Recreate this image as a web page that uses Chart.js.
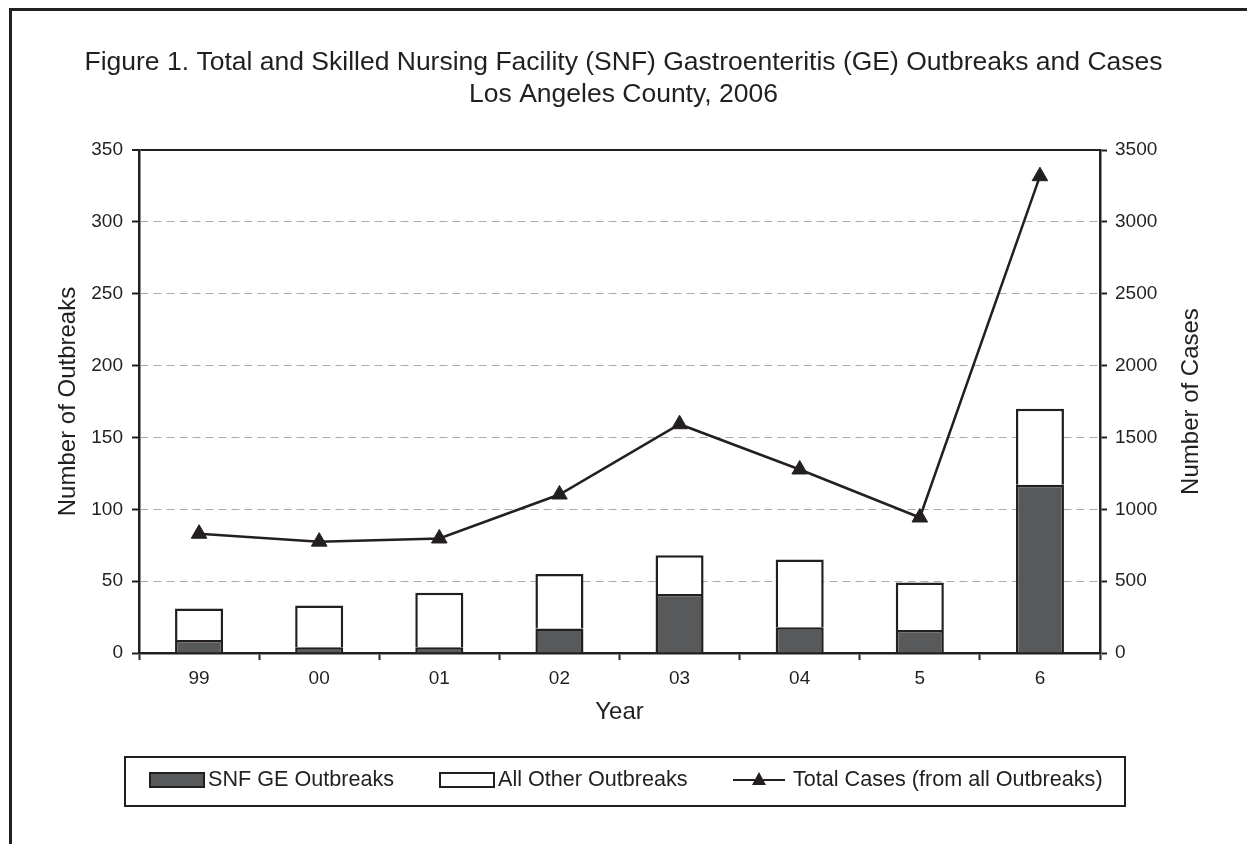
<!DOCTYPE html>
<html>
<head>
<meta charset="utf-8">
<title>SNF GE Outbreaks, Los Angeles County</title>
<script src="https://cdn.jsdelivr.net/npm/chart.js@4.4.1/dist/chart.umd.min.js"></script>
<style>
  html, body { margin: 0; padding: 0; background: #fff; }
  #chart { display: block; }
</style>
</head>
<body>
<canvas id="chart" width="1247" height="844"></canvas>
<script>
// values
var years = ['99', '00', '01', '02', '03', '04', '5', '6'];
var snfOutbreaks = [9, 4, 4, 17, 41, 18, 16, 117];
var otherOutbreaks = [22, 29, 38, 38, 27, 47, 33, 53];
var totalCases = [830, 775, 797, 1103, 1592, 1277, 943, 3318];
var outbreakTicks = [0, 50, 100, 150, 200, 250, 300, 350];
var caseTicks = [0, 500, 1000, 1500, 2000, 2500, 3000, 3500];

var titleLines = [
    'Figure 1. Total and Skilled Nursing Facility (SNF) Gastroenteritis (GE) Outbreaks and Cases',
    'Los Angeles County, 2006'
];

var INK = '#231f20';
var SNF_FILL = '#58595b';
var GRID = '#a7a9ac';
var FONT = '"Liberation Sans", Arial, Helvetica, sans-serif';

Chart.defaults.font.family = FONT;
Chart.defaults.color = INK;

function fixedTicks(list) {
    return function(scale) {
        scale.ticks = list.map(function(v) { return { value: v }; });
    };
}

function plainNumber(v) {
    return String(v);
}

// frame, right axis title and the boxed legend
var decorations = {
    id: 'decorations',
    beforeDraw: function(chart) {
        var ctx = chart.ctx;
        ctx.save();
        ctx.fillStyle = '#fff';
        ctx.fillRect(0, 0, chart.width, chart.height);
        ctx.restore();
    },
    afterDraw: function(chart) {
        var ctx = chart.ctx;
        var area = chart.chartArea;
        var ds = chart.data.datasets;
        ctx.save();

        // outer frame, only top and left edges show
        ctx.strokeStyle = INK;
        ctx.lineWidth = 3;
        ctx.beginPath();
        ctx.moveTo(10.5, chart.height);
        ctx.lineTo(10.5, 9.5);
        ctx.lineTo(chart.width, 9.5);
        ctx.stroke();

        // right axis title, reads bottom to top like the left one
        ctx.save();
        ctx.fillStyle = INK;
        ctx.font = '24px ' + FONT;
        ctx.textAlign = 'center';
        ctx.textBaseline = 'middle';
        ctx.translate(1191, (area.top + area.bottom) / 2);
        ctx.rotate(-Math.PI / 2);
        ctx.fillText('Number of Cases', 0, 0);
        ctx.restore();

        // legend box
        ctx.lineWidth = 2;
        ctx.strokeStyle = INK;
        ctx.strokeRect(125, 757, 1000, 49);

        ctx.font = '21.6px ' + FONT;
        ctx.textAlign = 'left';
        ctx.textBaseline = 'middle';
        ctx.fillStyle = INK;
        var ly = 780;

        // bar swatches
        [[0, 150], [1, 440]].forEach(function(it) {
            var d = ds[it[0]];
            ctx.fillStyle = d.backgroundColor;
            ctx.fillRect(it[1], ly - 7, 54, 14);
            ctx.strokeRect(it[1], ly - 7, 54, 14);
            ctx.fillStyle = INK;
            ctx.fillText(d.label, it[1] + 58, ly);
        });

        // line swatch with triangle
        ctx.beginPath();
        ctx.moveTo(733, ly);
        ctx.lineTo(785, ly);
        ctx.stroke();
        ctx.beginPath();
        ctx.moveTo(759, ly - 8);
        ctx.lineTo(766, ly + 5);
        ctx.lineTo(752, ly + 5);
        ctx.closePath();
        ctx.fill();
        ctx.fillText(ds[2].label, 793, ly);

        ctx.restore();
    }
};

var chart = new Chart(document.getElementById('chart'), {
    type: 'bar',
    data: {
        labels: years,
        datasets: [{
            label: 'SNF GE Outbreaks',
            data: snfOutbreaks,
            backgroundColor: SNF_FILL,
            borderColor: INK,
            borderWidth: 2.5,
            stack: 'outbreaks',
            order: 1
        }, {
            label: 'All Other Outbreaks',
            data: otherOutbreaks,
            backgroundColor: '#ffffff',
            borderColor: INK,
            borderWidth: 2.5,
            stack: 'outbreaks',
            order: 2
        }, {
            type: 'line',
            label: 'Total Cases (from all Outbreaks)',
            data: totalCases,
            yAxisID: 'y2',
            borderColor: INK,
            borderWidth: 2.5,
            backgroundColor: INK,
            pointStyle: 'triangle',
            pointRadius: 9,
            pointBorderWidth: 1,
            pointBackgroundColor: INK,
            pointBorderColor: INK,
            tension: 0,
            fill: false,
            order: 0
        }]
    },
    options: {
        responsive: false,
        animation: false,
        devicePixelRatio: 1,
        events: [],
        datasets: {
            bar: { barPercentage: 0.4, categoryPercentage: 1.0 }
        },
        layout: { padding: { top: 0, left: 0, right: 0, bottom: 113.6 } },
        plugins: {
            legend: { display: false },
            tooltip: { enabled: false },
            title: {
                display: true,
                text: titleLines,
                color: INK,
                font: { size: 26.5, weight: 'normal', lineHeight: 1.18 },
                padding: { top: 47.5, bottom: 40 }
            }
        },
        scales: {
            x: {
                stacked: true,
                grid: {
                    offset: true,
                    drawOnChartArea: false,
                    tickLength: 7,
                    tickColor: INK,
                    tickWidth: 2
                },
                border: { color: INK, width: 2.5 },
                ticks: { color: INK, font: { size: 19 }, padding: 7 },
                title: { display: true, text: 'Year', color: INK, font: { size: 24 }, padding: 4 },
                afterFit: function(s) { s.height = 77.4; }
            },
            y: {
                stacked: true,
                position: 'left',
                min: 0,
                max: 350,
                afterBuildTicks: fixedTicks(outbreakTicks),
                grid: {
                    color: function(c) {
                        if (!c.tick || c.tick.value === 0) return 'rgba(0,0,0,0)';
                        return c.tick.value === 350 ? INK : GRID;
                    },
                    lineWidth: function(c) {
                        return c.tick && c.tick.value === 350 ? 2 : 1;
                    },
                    tickLength: 7,
                    tickColor: INK,
                    tickWidth: 2
                },
                border: {
                    color: INK,
                    width: 2.5,
                    dash: function(c) {
                        return c.tick && c.tick.value === 350 ? [] : [8, 5];
                    }
                },
                ticks: { color: INK, font: { size: 19 }, padding: 9, callback: plainNumber },
                title: {
                    display: true,
                    text: 'Number of Outbreaks',
                    color: INK,
                    font: { size: 24 },
                    padding: { top: 53.6, bottom: 4 }
                },
                afterFit: function(s) { s.width = 139; }
            },
            y2: {
                position: 'right',
                min: 0,
                max: 3500,
                afterBuildTicks: fixedTicks(caseTicks),
                grid: {
                    drawOnChartArea: false,
                    tickLength: 7,
                    tickColor: INK,
                    tickWidth: 2
                },
                border: { color: INK, width: 2.5 },
                ticks: { color: INK, font: { size: 19 }, padding: 8, callback: plainNumber },
                afterFit: function(s) { s.width = 147; }
            }
        }
    },
    plugins: [decorations]
});
</script>
</body>
</html>
